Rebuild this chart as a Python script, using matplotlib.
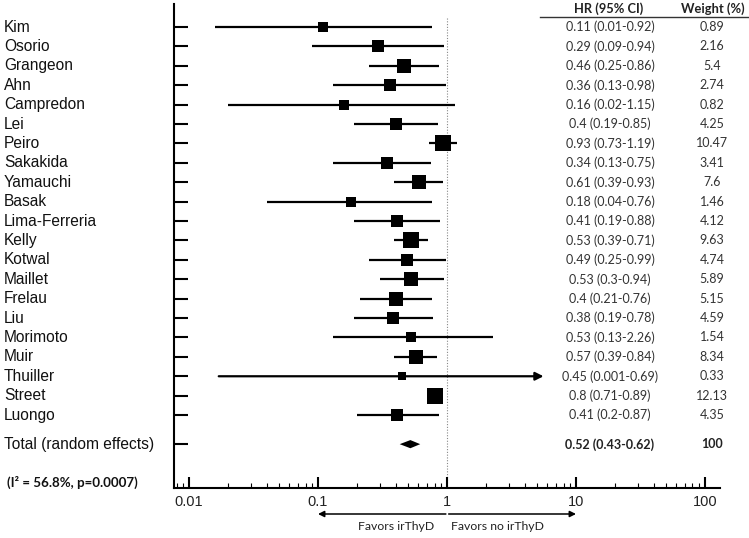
import matplotlib.pyplot as plt
from matplotlib.lines import Line2D
from matplotlib.transforms import blended_transform_factory
import numpy as np

# study data
studies = ["Kim", "Osorio", "Grangeon", "Ahn", "Campredon", "Lei", "Peiro",
           "Sakakida", "Yamauchi", "Basak", "Lima-Ferreria", "Kelly", "Kotwal",
           "Maillet", "Frelau", "Liu", "Morimoto", "Muir", "Thuiller", "Street",
           "Luongo"]
hr = [0.11, 0.29, 0.46, 0.36, 0.16, 0.4, 0.93, 0.34, 0.61, 0.18, 0.41, 0.53,
      0.49, 0.53, 0.4, 0.38, 0.53, 0.57, 0.45, 0.8, 0.41]
# whisker ends as drawn in the picture
ci_lo = [0.016, 0.09, 0.25, 0.13, 0.02, 0.19, 0.73, 0.13, 0.39, 0.04, 0.19,
         0.39, 0.25, 0.3, 0.21, 0.19, 0.13, 0.39, 0.017, 0.71, 0.2]
ci_hi = [0.76, 0.94, 0.86, 0.98, 1.15, 0.85, 1.19, 0.75, 0.93, 0.76, 0.88,
         0.71, 0.99, 0.94, 0.76, 0.78, 2.26, 0.84, 5.6, 0.89, 0.87]
weights = [0.89, 2.16, 5.4, 2.74, 0.82, 4.25, 10.47, 3.41, 7.6, 1.46, 4.12,
           9.63, 4.74, 5.89, 5.15, 4.59, 1.54, 8.34, 0.33, 12.13, 4.35]
hr_text = ["0.11 (0.01-0.92)", "0.29 (0.09-0.94)", "0.46 (0.25-0.86)",
           "0.36 (0.13-0.98)", "0.16 (0.02-1.15)", "0.4 (0.19-0.85)",
           "0.93 (0.73-1.19)", "0.34 (0.13-0.75)", "0.61 (0.39-0.93)",
           "0.18 (0.04-0.76)", "0.41 (0.19-0.88)", "0.53 (0.39-0.71)",
           "0.49 (0.25-0.99)", "0.53 (0.3-0.94)", "0.4 (0.21-0.76)",
           "0.38 (0.19-0.78)", "0.53 (0.13-2.26)", "0.57 (0.39-0.84)",
           "0.45 (0.001-0.69)", "0.8 (0.71-0.89)", "0.41 (0.2-0.87)"]
truncated = ["Thuiller"]

total_label = "Total (random effects)"
total_hr, total_lo, total_hi = 0.52, 0.43, 0.62
total_text = "0.52 (0.43-0.62)"
total_weight = "100"
heterogeneity = "(I\u00b2 = 56.8%, p=0.0007)"

x_ticks = [0.01, 0.1, 1, 10, 100]
x_tick_labels = ["0.01", "0.1", "1", "10", "100"]

W, H = 749, 538
fig = plt.figure(figsize=(W / 100, H / 100), dpi=100)
ax = fig.add_axes([174 / W, 1 - 488 / H, (720 - 174) / W, (488 - 4) / H])

rows = np.arange(len(studies))
total_y = len(studies) - 1 + 1.5

for i, name in enumerate(studies):
    if name in truncated:
        ax.annotate("", xy=(ci_hi[i], i), xytext=(ci_lo[i], i),
                    arrowprops=dict(arrowstyle="-|>", lw=1.6, color="black",
                                    mutation_scale=12, shrinkA=0, shrinkB=0),
                    zorder=3)
    else:
        ax.plot([ci_lo[i], ci_hi[i]], [i, i], color="black", lw=1.6,
                solid_capstyle="butt", zorder=3)
    side_px = 7.6 + 2.4 * np.sqrt(weights[i])
    ax.plot(hr[i], i, marker="s", color="black", markersize=side_px * 0.72,
            markeredgewidth=0, zorder=4)

# pooled estimate diamond
h = 0.21
ax.fill([total_lo, total_hr, total_hi, total_hr],
        [total_y, total_y - h, total_y, total_y + h], color="black", lw=0,
        zorder=4)

ax.plot([1, 1], [-0.46, 23.76], color="#888888", lw=0.8, ls=(0, (1, 1.5)),
        zorder=1)

ax.set_xscale("log")
ax.set_xlim(0.00765, 130.7)
ax.set_ylim(23.76, -1.19)
ax.set_xticks(x_ticks)
ax.set_xticklabels(x_tick_labels, family="Liberation Sans", fontsize=10.5,
                   color="#222222")
ax.tick_params(axis="x", which="major", direction="in", length=8, width=1.5,
               pad=5)
ax.tick_params(axis="x", which="minor", direction="in", length=3.5, width=0.8,
               labelbottom=False)
ax.set_yticks(list(rows) + [total_y])
ax.set_yticklabels([])
ax.tick_params(axis="y", direction="in", length=10, width=1.5)
for side in ["top", "right"]:
    ax.spines[side].set_visible(False)
for side in ["left", "bottom"]:
    ax.spines[side].set_linewidth(1.5)

# left labels
lab = blended_transform_factory(fig.transFigure, ax.transData)
for i, name in enumerate(studies):
    ax.text(4 / W, i, name, transform=lab, ha="left", va="center",
            family="Liberation Sans", fontsize=11.2, color="#111111")
ax.text(4 / W, total_y, total_label, transform=lab, ha="left", va="center",
        family="Liberation Sans", fontsize=11.2, color="#111111")
ax.text(7 / W, 23.45, heterogeneity, transform=lab, ha="left", va="center",
        family="Lato", fontweight="bold", fontsize=9.6, color="#111111")

# table on the right
col_hr, col_w = 610 / W, 712 / W
ax.text(609 / W, -0.93, "HR (95% CI)", transform=lab, ha="center",
        va="center", family="Lato", fontweight="bold", fontsize=9.3,
        color="#222222")
ax.text(713 / W, -0.93, "Weight (%)", transform=lab, ha="center",
        va="center", family="Lato", fontweight="bold", fontsize=9.3,
        color="#222222")
fig.add_artist(Line2D([540 / W, 1], [1 - 17 / H, 1 - 17 / H],
                      color="#333333", lw=1))
for i in rows:
    ax.text(col_hr, i, hr_text[i], transform=lab, ha="center", va="center",
            family="Lato", fontsize=9, color="#333333")
    ax.text(col_w, i, str(weights[i]), transform=lab, ha="center",
            va="center", family="Lato", fontsize=9, color="#333333")
ax.text(col_hr, total_y, total_text, transform=lab, ha="center", va="center",
        family="Lato", fontweight="bold", fontsize=9, color="#222222")
ax.text(col_w, total_y, total_weight, transform=lab, ha="center",
        va="center", family="Lato", fontweight="bold", fontsize=9,
        color="#222222")

# favours arrows below the axis
arr = blended_transform_factory(ax.transData, fig.transFigure)
y_arr = 1 - 514 / H
ax.annotate("", xy=(0.1, y_arr), xytext=(0.98, y_arr), xycoords=arr,
            textcoords=arr, annotation_clip=False,
            arrowprops=dict(arrowstyle="-|>", lw=1.1, color="black",
                            mutation_scale=9, shrinkA=0, shrinkB=0))
ax.annotate("", xy=(10, y_arr), xytext=(1.03, y_arr), xycoords=arr,
            textcoords=arr, annotation_clip=False,
            arrowprops=dict(arrowstyle="-|>", lw=1.1, color="black",
                            mutation_scale=9, shrinkA=0, shrinkB=0))
ax.text(0.8, 1 - 527 / H, "Favors irThyD", transform=arr, ha="right",
        va="center", family="Lato", fontsize=8.8, color="#222222")
ax.text(1.08, 1 - 527 / H, "Favors no irThyD", transform=arr, ha="left",
        va="center", family="Lato", fontsize=8.8, color="#222222")

fig.savefig("out.png", dpi=100)
plt.close(fig)
